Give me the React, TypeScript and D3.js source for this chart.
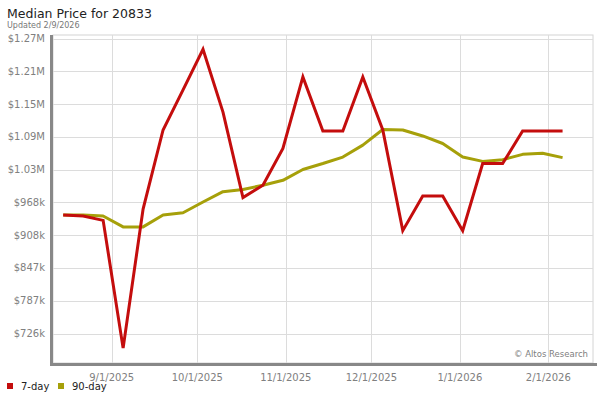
import { useMemo } from 'react';
import * as d3 from 'd3';

const dates = [
  '2025-08-15', '2025-08-22', '2025-08-29', '2025-09-05', '2025-09-12', '2025-09-19', '2025-09-26',
  '2025-10-03', '2025-10-10', '2025-10-17', '2025-10-24', '2025-10-31', '2025-11-07', '2025-11-14',
  '2025-11-21', '2025-11-28', '2025-12-05', '2025-12-12', '2025-12-19', '2025-12-26', '2026-01-02',
  '2026-01-09', '2026-01-16', '2026-01-23', '2026-01-30', '2026-02-06',
];

const day7 = [
  945000, 943000, 935000, 699000, 956000, 1102000, 1176000, 1251000, 1135000, 977000, 1000000, 1068000,
  1200000, 1100000, 1100000, 1200000, 1102000, 916000, 980000, 980000, 916000, 1040000, 1040000,
  1100000, 1100000, 1100000,
];

const day90 = [
  945000, 945000, 943000, 923000, 923000, 945000, 949000, 969000, 988000, 992000, 1000000, 1009000,
  1029000, 1040000, 1052000, 1074000, 1103000, 1102000, 1091000, 1077000, 1052000, 1044000, 1047000,
  1057000, 1059000, 1051000,
];

const yTicks = [726000, 786600, 847100, 907700, 968200, 1028800, 1089300, 1149900, 1210400, 1271000];
const yTickLabels = ['$726k', '$787k', '$847k', '$908k', '$968k', '$1.03M', '$1.09M', '$1.15M', '$1.21M', '$1.27M'];
const xTicks = ['2025-09-01', '2025-10-01', '2025-11-01', '2025-12-01', '2026-01-01', '2026-02-01'];
const xTickLabels = ['9/1/2025', '10/1/2025', '11/1/2025', '12/1/2025', '1/1/2026', '2/1/2026'];

const RED = '#c40d0d';
const OLIVE = '#a6a00a';
const FONT = 'DejaVu Sans, Verdana, sans-serif';

const parse = (s: string) => {
  const [y, m, d] = s.split('-').map(Number);
  return new Date(y, m - 1, d);
};

export default function App() {
  const L = 53, R = 593, T = 35, B = 363;

  const x = useMemo(() => d3.scaleTime()
    .domain([parse('2025-09-01'), parse('2026-02-01')])
    .range([111.7, 548.3]), []);
  const y = useMemo(() => d3.scaleLinear().domain([671500, 1277500]).range([B, T]), []);

  const line = d3.line<number>()
    .x((_, i) => x(parse(dates[i])))
    .y(d => y(d));

  return (
    <svg width={600} height={400} style={{ position: 'absolute', left: 0, top: 0, background: '#fff' }}
      fontFamily={FONT}>
      {/* title */}
      <text x={7} y={18} fontSize={12.5} fill="#222">Median Price for 20833</text>
      <text x={7} y={28} fontSize={8} fill="#777">Updated 2/9/2026</text>

      {/* plot frame */}
      <rect x={L} y={T} width={R - L} height={B - T} fill="#fff" stroke="#d4d4d4" strokeWidth={1} />

      {/* grid */}
      {yTicks.map((t, i) => (
        <g key={'y' + i}>
          <line x1={L} x2={R} y1={Math.round(y(t)) + 0.5} y2={Math.round(y(t)) + 0.5} stroke="#dcdcdc" />
          <text x={45} y={y(t) + 3.5} fontSize={10} fill="#808080" textAnchor="end">{yTickLabels[i]}</text>
        </g>
      ))}
      {xTicks.map((t, i) => (
        <g key={'x' + i}>
          <line x1={Math.round(x(parse(t))) + 0.5} x2={Math.round(x(parse(t))) + 0.5} y1={T} y2={B} stroke="#dcdcdc" />
          <text x={x(parse(t))} y={381} fontSize={10} fill="#808080" textAnchor="middle">{xTickLabels[i]}</text>
        </g>
      ))}

      {/* axis bars */}
      <rect x={50} y={T} width={3} height={B - T + 3} fill="#888" />
      <rect x={50} y={B} width={597 - 50} height={3} fill="#888" />

      <text x={588} y={357} fontSize={8.5} fill="#808080" textAnchor="end">© Altos Research</text>

      {/* series */}
      <path d={line(day90) ?? ''} fill="none" stroke={OLIVE} strokeWidth={3} strokeLinejoin="round" />
      <path d={line(day7) ?? ''} fill="none" stroke={RED} strokeWidth={3} strokeLinejoin="miter" />

      {/* legend */}
      <rect x={7} y={383} width={6} height={6} fill={RED} />
      <text x={21} y={390} fontSize={10} fill="#222">7-day</text>
      <rect x={58} y={383} width={6} height={6} fill={OLIVE} />
      <text x={72} y={390} fontSize={10} fill="#222">90-day</text>
    </svg>
  );
}
